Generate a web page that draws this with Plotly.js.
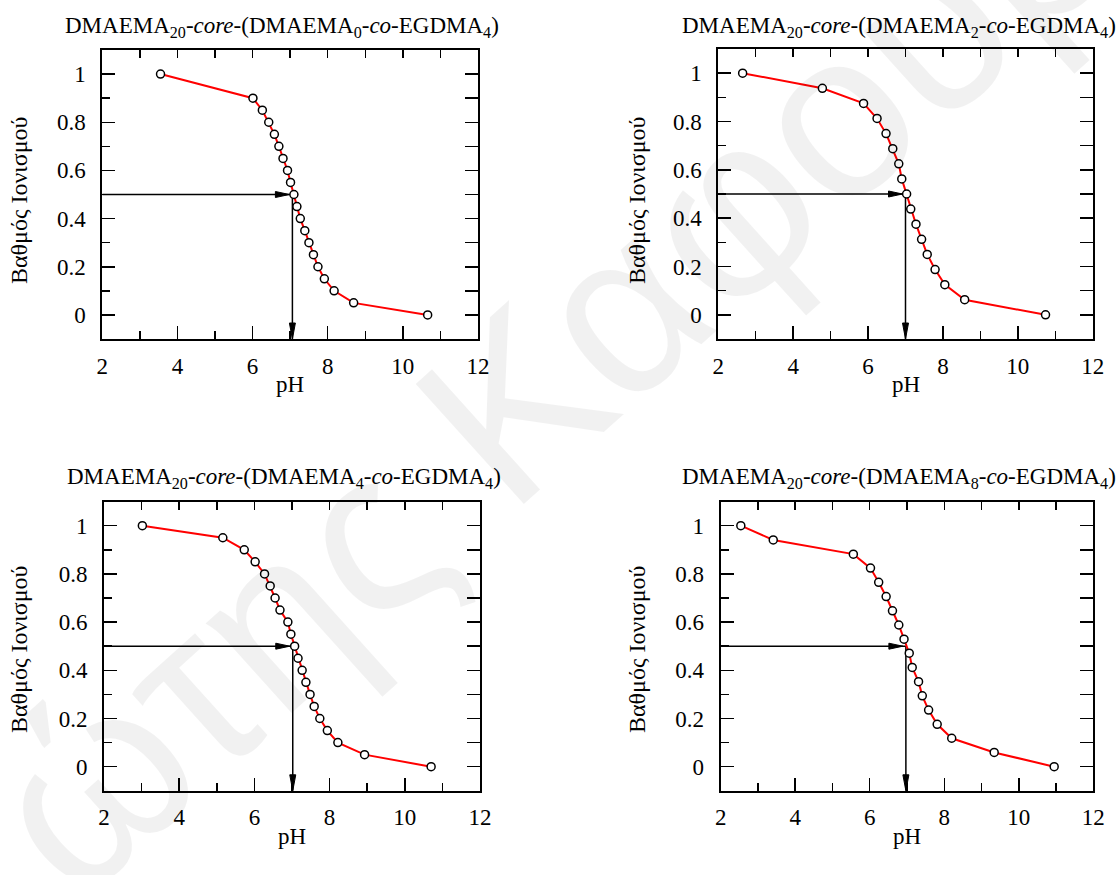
<!DOCTYPE html>
<html><head><meta charset="utf-8">
<script src="https://cdn.plot.ly/plotly-3.0.1.min.js"></script>
<style>body{margin:0;background:#fff}#chart{width:1120px;height:875px}</style>
</head><body><div id="chart"></div>
<script>
// ---------- data ----------
const panelTitles = [
  "DMAEMA<sub>20</sub>-<i>core</i>-(DMAEMA<sub>0</sub>-<i>co</i>-EGDMA<sub>4</sub>)",
  "DMAEMA<sub>20</sub>-<i>core</i>-(DMAEMA<sub>2</sub>-<i>co</i>-EGDMA<sub>4</sub>)",
  "DMAEMA<sub>20</sub>-<i>core</i>-(DMAEMA<sub>4</sub>-<i>co</i>-EGDMA<sub>4</sub>)",
  "DMAEMA<sub>20</sub>-<i>core</i>-(DMAEMA<sub>8</sub>-<i>co</i>-EGDMA<sub>4</sub>)"
];
const xTitle = "pH";
const yTitle = "Βαθμός Ιονισμού";
const watermark = "ώτης Καφούρ";

const pH_DMAEMA0 = [3.55, 6.01, 6.26, 6.43, 6.58, 6.70, 6.81, 6.93, 7.01, 7.10, 7.18, 7.27, 7.39, 7.50, 7.62, 7.74, 7.91, 8.17, 8.69, 10.66];
const ion_DMAEMA0 = [1, 0.9, 0.85, 0.8, 0.75, 0.7, 0.65, 0.6, 0.55, 0.5, 0.45, 0.4, 0.35, 0.3, 0.25, 0.2, 0.15, 0.1, 0.05, 0];

const pH_DMAEMA2 = [2.65, 4.78, 5.88, 6.24, 6.48, 6.66, 6.82, 6.90, 7.03, 7.14, 7.28, 7.43, 7.58, 7.79, 8.05, 8.58, 10.74];
const ion_DMAEMA2 = [1, 0.9375, 0.875, 0.8125, 0.75, 0.6875, 0.625, 0.5625, 0.5, 0.4375, 0.375, 0.3125, 0.25, 0.1875, 0.125, 0.0625, 0];

const pH_DMAEMA4 = [3.02, 5.16, 5.73, 6.02, 6.27, 6.42, 6.55, 6.68, 6.89, 6.97, 7.07, 7.16, 7.27, 7.37, 7.48, 7.59, 7.74, 7.94, 8.22, 8.93, 10.70];
const ion_DMAEMA4 = [1, 0.95, 0.9, 0.85, 0.8, 0.75, 0.7, 0.65, 0.6, 0.55, 0.5, 0.45, 0.4, 0.35, 0.3, 0.25, 0.2, 0.15, 0.1, 0.05, 0];

const pH_DMAEMA8 = [2.54, 3.41, 5.56, 6.02, 6.24, 6.44, 6.61, 6.78, 6.92, 7.06, 7.14, 7.31, 7.41, 7.58, 7.81, 8.20, 9.34, 10.95];
const ion_DMAEMA8 = [1, 0.941, 0.882, 0.824, 0.765, 0.706, 0.647, 0.588, 0.529, 0.471, 0.412, 0.353, 0.294, 0.235, 0.176, 0.118, 0.059, 0];

const pKa = [7.06, 7.00, 7.02, 6.97];   // pH at half ionisation
const halfIon = 0.5;

const xRange = [2, 12];
const yRange = [-0.1, 1.1];

// ---------- layout helpers ----------
const W = 1120, H = 875;
const FONT = "Liberation Serif";
// plot boxes in pixels [left, right, top, bottom]
const boxes = [
  [102.3, 478, 50, 339],
  [718.3, 1092.7, 49, 339],
  [104, 480, 501.6, 790.8],
  [720.7, 1093.3, 501.6, 790.8]
];
const titlePos = [[282, 27], [899, 27], [284, 478], [899, 478]];
const yTitlePos = [[19, 201], [637, 201], [19, 650], [637, 650]];
const xTitlePos = [[290, 384], [906, 384], [292, 836], [907, 836]];

const series = [
  [pH_DMAEMA0, ion_DMAEMA0],
  [pH_DMAEMA2, ion_DMAEMA2],
  [pH_DMAEMA4, ion_DMAEMA4],
  [pH_DMAEMA8, ion_DMAEMA8]
];

const traces = [];
const layout = {
  width: W, height: H,
  margin: {l: 0, r: 0, t: 0, b: 0},
  paper_bgcolor: "#fff", plot_bgcolor: "rgba(0,0,0,0)",
  showlegend: false,
  font: {family: FONT, size: 23, color: "#000"},
  annotations: [], shapes: []
};

function id(n) { return n === 1 ? "" : String(n); }

// faint watermark (drawn first, behind the rest of annotations)
layout.annotations.push({text: watermark, xref: "paper", yref: "paper",
  x: 548 / W, y: 1 - 372 / H, xanchor: "center", yanchor: "middle", textangle: -42,
  showarrow: false, font: {family: "Liberation Sans", size: 235, color: "rgba(0,0,0,0.055)"}});

for (let i = 0; i < 4; i++) {
  const n = i + 1, m = i + 5;
  const [l, r, t, b] = boxes[i];
  const xd = [l / W, r / W], yd = [1 - b / H, 1 - t / H];
  const xa = "x" + id(n), ya = "y" + id(n);

  layout["xaxis" + id(n)] = {
    domain: xd, anchor: ya, range: xRange, dtick: 2, tick0: 2,
    ticks: "inside", ticklen: 13, tickwidth: 1.5, tickcolor: "#000",
    minor: {dtick: 1, tick0: 2, ticks: "inside", ticklen: 8, tickwidth: 1.5, tickcolor: "#000", showgrid: false},
    showline: true, linewidth: 2, linecolor: "#000", mirror: true,
    showgrid: false, zeroline: false, fixedrange: true,
    tickfont: {family: FONT, size: 23, color: "#000"}, ticklabelstandoff: 5
  };
  layout["yaxis" + id(n)] = {
    domain: yd, anchor: xa, range: yRange, dtick: 0.2, tick0: 0,
    ticks: "inside", ticklen: 13, tickwidth: 1.5, tickcolor: "#000",
    minor: {dtick: 0.1, tick0: 0, ticks: "inside", ticklen: 8, tickwidth: 1.5, tickcolor: "#000", showgrid: false},
    showline: true, linewidth: 2, linecolor: "#000", mirror: true,
    showgrid: false, zeroline: false, fixedrange: true,
    tickfont: {family: FONT, size: 23, color: "#000"}, ticklabelstandoff: 10
  };
  // top (uniform short ticks) and right (uniform long ticks)
  layout["xaxis" + m] = {
    overlaying: xa, anchor: ya, side: "top", range: xRange, dtick: 1, tick0: 2,
    ticks: "inside", ticklen: 8, tickwidth: 1.5, tickcolor: "#000",
    showticklabels: false, showline: false, showgrid: false, zeroline: false, fixedrange: true
  };
  layout["yaxis" + m] = {
    overlaying: ya, anchor: xa, side: "right", range: yRange, dtick: 0.1, tick0: 0,
    ticks: "inside", ticklen: 13, tickwidth: 1.5, tickcolor: "#000",
    showticklabels: false, showline: false, showgrid: false, zeroline: false, fixedrange: true
  };
  traces.push({x: [], y: [], xaxis: "x" + m, yaxis: ya, type: "scatter", hoverinfo: "skip"});
  traces.push({x: [], y: [], xaxis: xa, yaxis: "y" + m, type: "scatter", hoverinfo: "skip"});

  // arrows: horizontal at half ionisation, vertical down to axis
  traces.push({x: [xRange[0], pKa[i]], y: [halfIon, halfIon], xaxis: xa, yaxis: ya,
    mode: "lines", line: {color: "#000", width: 1.5}, hoverinfo: "skip"});
  traces.push({x: [pKa[i], pKa[i]], y: [halfIon, yRange[0]], xaxis: xa, yaxis: ya,
    mode: "lines", line: {color: "#000", width: 1.5}, hoverinfo: "skip"});
  layout.shapes.push({type: "path", xref: xa, yref: ya, xsizemode: "pixel", ysizemode: "pixel",
    xanchor: pKa[i], yanchor: halfIon, path: "M-3,0 L-17,3 L-17,-3 Z",
    fillcolor: "#000", line: {color: "#000", width: 1}});
  layout.shapes.push({type: "path", xref: xa, yref: ya, xsizemode: "pixel", ysizemode: "pixel",
    xanchor: pKa[i], yanchor: yRange[0], path: "M0,0 L-3,16 L3,16 Z",
    fillcolor: "#000", line: {color: "#000", width: 1}});

  // data
  traces.push({x: series[i][0], y: series[i][1], xaxis: xa, yaxis: ya, type: "scatter",
    mode: "lines+markers", line: {color: "#ff0000", width: 2},
    marker: {symbol: "circle", size: 8, color: "#fff", line: {color: "#000", width: 1.5}}});

  // titles
  layout.annotations.push({text: panelTitles[i], xref: "paper", yref: "paper",
    x: titlePos[i][0] / W, y: 1 - titlePos[i][1] / H, xanchor: "center", yanchor: "middle",
    showarrow: false, font: {family: FONT, size: 23, color: "#000"}});
  layout.annotations.push({text: yTitle, xref: "paper", yref: "paper", textangle: -90,
    x: yTitlePos[i][0] / W, y: 1 - yTitlePos[i][1] / H, xanchor: "center", yanchor: "middle",
    showarrow: false, font: {family: FONT, size: 24, color: "#000"}});
  layout.annotations.push({text: xTitle, xref: "paper", yref: "paper",
    x: xTitlePos[i][0] / W, y: 1 - xTitlePos[i][1] / H, xanchor: "center", yanchor: "middle",
    showarrow: false, font: {family: FONT, size: 23, color: "#000"}});
}

Plotly.newPlot("chart", traces, layout, {displayModeBar: false, staticPlot: true});
</script>
</body></html>
